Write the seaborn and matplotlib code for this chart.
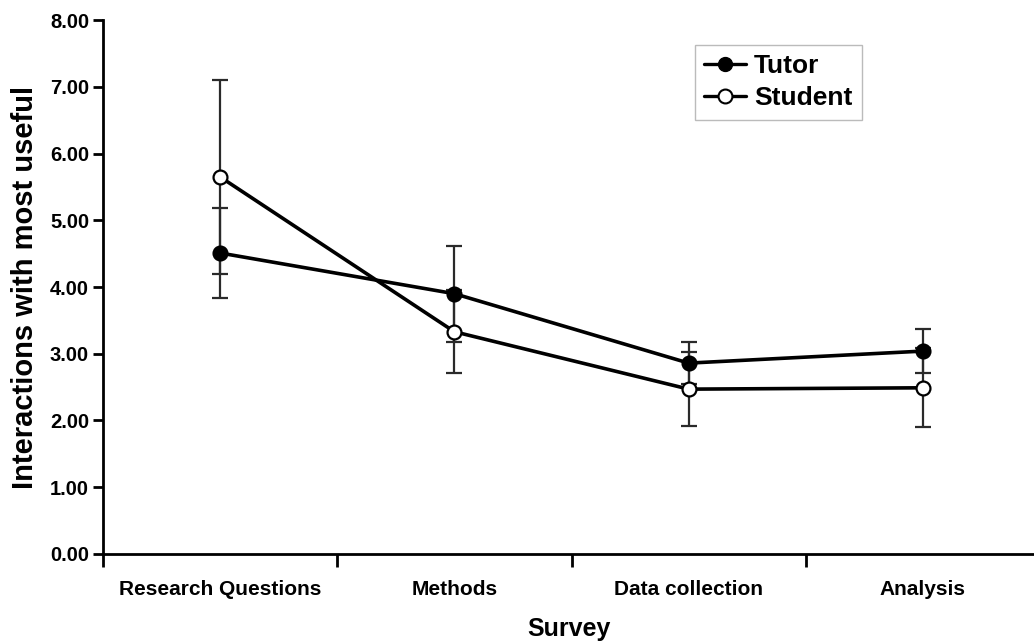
import numpy as np
import pandas as pd
import matplotlib
matplotlib.use("Agg")
import matplotlib.pyplot as plt
from matplotlib.lines import Line2D
from matplotlib.ticker import FixedLocator, FormatStrFormatter
import seaborn as sns

# Survey stages and mean ratings (with error half-widths) per group
categories = ["Research Questions", "Methods", "Data collection", "Analysis"]
tutor_mean = [4.51, 3.90, 2.86, 3.04]
tutor_err = [0.68, 0.72, 0.32, 0.33]
student_mean = [5.65, 3.33, 2.47, 2.49]
student_err = [1.45, 0.62, 0.55, 0.59]
y_ticks = [0, 1, 2, 3, 4, 5, 6, 7, 8]

sns.set_theme(style="white")
plt.rcParams["font.family"] = ["Liberation Sans", "DejaVu Sans"]
plt.rcParams["font.weight"] = "bold"
plt.rcParams["text.color"] = "black"
plt.rcParams["axes.labelcolor"] = "black"
plt.rcParams["xtick.color"] = "black"
plt.rcParams["ytick.color"] = "black"

pos = np.arange(len(categories))
df = pd.DataFrame({
    "pos": np.concatenate([pos, pos]),
    "value": tutor_mean + student_mean,
    "err": tutor_err + student_err,
    "group": ["Tutor"] * len(pos) + ["Student"] * len(pos),
})

fig = plt.figure(figsize=(10.34, 6.44), dpi=100)
ax = fig.add_axes([0.0996, 0.1398, 0.9004, 0.829])

styles = {
    "Tutor": dict(markerfacecolor="black"),
    "Student": dict(markerfacecolor="white"),
}
for grp in ["Tutor", "Student"]:
    sub = df[df["group"] == grp]
    ax.errorbar(sub["pos"], sub["value"], yerr=sub["err"], fmt="none",
                ecolor="#2a2a2a", elinewidth=1.6, capsize=6, capthick=1.6,
                zorder=2)
for grp in ["Tutor", "Student"]:
    sub = df[df["group"] == grp]
    sns.lineplot(data=sub, x="pos", y="value", ax=ax, color="black",
                 linewidth=2.6, marker="o", markersize=10,
                 markeredgecolor="black", markeredgewidth=1.6,
                 zorder=3, legend=False, **styles[grp])

ax.set_ylim(0, 8)
ax.set_xlim(-0.5, 3.474)
ax.yaxis.set_major_locator(FixedLocator(y_ticks))
ax.yaxis.set_major_formatter(FormatStrFormatter("%.2f"))
ax.set_xticks(pos)
ax.set_xticklabels(categories)
ax.xaxis.set_minor_locator(FixedLocator([-0.5, 0.5, 1.5, 2.5]))

for side in ["top", "right"]:
    ax.spines[side].set_visible(False)
for side in ["left", "bottom"]:
    ax.spines[side].set_color("black")
    ax.spines[side].set_linewidth(2.0)

ax.tick_params(axis="y", which="major", direction="out", length=7, width=2,
               color="black", labelcolor="black", labelsize=14.5, pad=3,
               left=True)
ax.tick_params(axis="x", which="major", length=0, pad=19, labelsize=15,
               labelcolor="black")
ax.tick_params(axis="x", which="minor", direction="out", length=9, width=2,
               color="black", bottom=True)
for lab in ax.get_xticklabels() + ax.get_yticklabels():
    lab.set_fontweight("bold")

ax.set_xlabel("Survey", fontsize=18, fontweight="bold", labelpad=13,
              color="black")
ax.set_ylabel("Interactions with most useful", fontsize=21,
              fontweight="bold", labelpad=8, color="black")
ax.grid(False)

handles = [
    Line2D([], [], color="black", linewidth=2.4, marker="o", markersize=10,
           markerfacecolor="black", markeredgecolor="black"),
    Line2D([], [], color="black", linewidth=2.4, marker="o", markersize=10,
           markerfacecolor="white", markeredgecolor="black",
           markeredgewidth=1.5),
]
leg = ax.legend(handles, ["Tutor", "Student"], loc="upper left",
                bbox_to_anchor=(0.6355, 0.953), frameon=True, fancybox=False,
                edgecolor="#aaaaaa", prop={"weight": "bold", "size": 19},
                handlelength=1.6, handletextpad=0.3, borderpad=0.35,
                labelspacing=0.3, borderaxespad=0)
leg.get_frame().set_linewidth(1.0)
for t in leg.get_texts():
    t.set_color("black")

fig.savefig("out.png", dpi=100, facecolor="white")
